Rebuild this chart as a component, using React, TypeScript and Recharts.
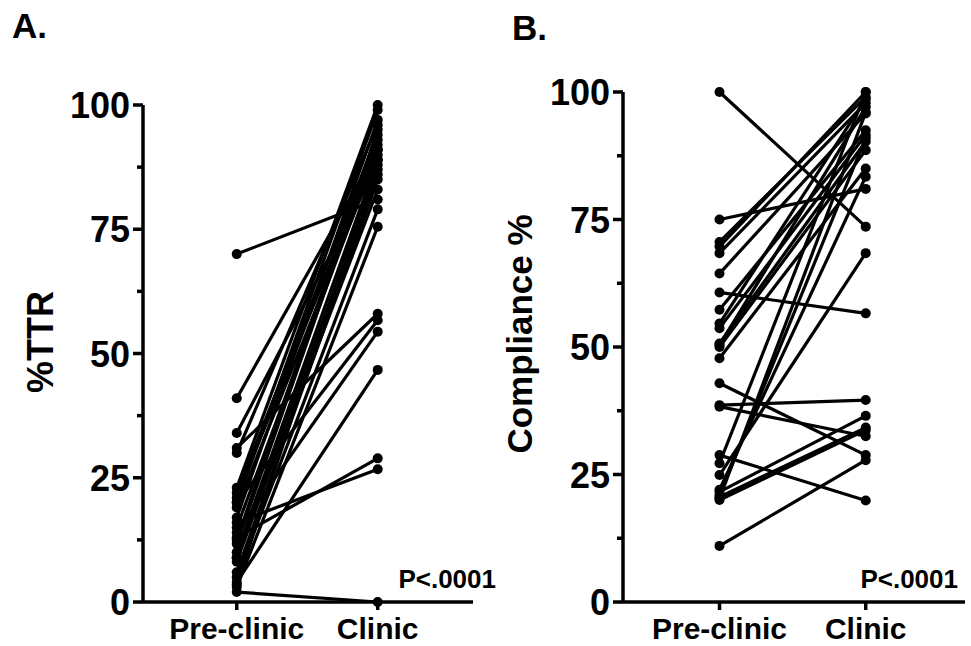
import React from 'react';
import { LineChart, Line, XAxis, YAxis } from 'recharts';

// categories on the x axis
const categories = ['Pre-clinic', 'Clinic'];
const yTicks = [0, 12.5, 25, 37.5, 50, 62.5, 75, 87.5, 100];

// Panel A: %TTR, one entry per patient
const ttrPre = [70, 41, 34, 31, 30, 23, 22, 21, 20, 20, 19, 16, 14, 13, 12.5, 11.7, 10, 8.8, 8.1, 6, 5, 4, 3, 2, 17, 15, 9, 3.5];
const ttrClinic = [81, 91, 88, 58, 96, 100, 94, 92, 99, 56.7, 90, 26.7, 54.4, 28.9, 95, 93, 89, 87, 86, 85, 79, 46.7, 75.5, 0, 97, 91, 83, 89];

// Panel B: Compliance %
const compPre = [100, 75, 70.6, 69.7, 68.4, 64.4, 60.7, 57.3, 54.6, 53.7, 50.7, 50, 50.4, 47.8, 42.9, 38.6, 38.3, 28.8, 27.2, 24.9, 21.6, 20.6, 20, 11, 22, 21, 20.3];
const compClinic = [73.6, 81, 99, 100, 97.8, 95.8, 56.6, 92.5, 98.6, 91.6, 90.3, 88.6, 97, 85, 28.8, 39.6, 32.5, 19.9, 100, 68.4, 36.5, 34.2, 33.7, 27.8, 83.4, 91, 96];

const FONT = '"Liberation Sans", Arial, Helvetica, sans-serif';

function toPairs(pre: number[], post: number[]) {
  return pre.map((v, i) => [
    { x: 0, y: v },
    { x: 1, y: post[i] },
  ]);
}

function YTick(props: any) {
  const { x, y, payload } = props;
  const major = payload.value % 25 === 0;
  return (
    <g>
      <line x1={x - (major ? 10 : 6)} x2={x} y1={y} y2={y} stroke="#000" strokeWidth={3.5} />
      {major && (
        <text x={x - 13} y={y} dy={13} textAnchor="end" fontFamily={FONT} fontWeight="bold" fontSize={36} fill="#000">
          {payload.value}
        </text>
      )}
    </g>
  );
}

function XTick(props: any) {
  const { x, y, payload } = props;
  return (
    <g>
      <line x1={x} x2={x} y1={y} y2={y + 8} stroke="#000" strokeWidth={3.5} />
      <text x={x} y={y + 37} textAnchor="middle" fontFamily={FONT} fontWeight="bold" fontSize={30} fill="#000">
        {categories[payload.value]}
      </text>
    </g>
  );
}

function Panel({ pre, post, left, width, top, right, xDomain }: any) {
  const pairs = toPairs(pre, post);
  return (
    <div style={{ position: 'absolute', left, top: 0 }}>
      <LineChart width={width} height={646} margin={{ top, right, bottom: 0, left: 0 }}>
        <XAxis
          type="number"
          dataKey="x"
          domain={xDomain}
          ticks={[0, 1]}
          interval={0}
          height={44}
          allowDataOverflow
          axisLine={{ stroke: '#000', strokeWidth: 3.5 }}
          tickLine={false}
          tickSize={0}
          tickMargin={0}
          tick={<XTick />}
        />
        <YAxis
          type="number"
          domain={[0, 100]}
          ticks={yTicks}
          interval={0}
          width={143}
          axisLine={{ stroke: '#000', strokeWidth: 3.5 }}
          tickLine={false}
          tickSize={0}
          tickMargin={0}
          tick={<YTick />}
        />
        {pairs.map((d, i) => (
          <Line
            key={i}
            data={d}
            dataKey="y"
            type="linear"
            stroke="#000"
            strokeWidth={3.2}
            dot={{ r: 5, fill: '#000', stroke: 'none' }}
            isAnimationActive={false}
          />
        ))}
      </LineChart>
    </div>
  );
}

export default function App() {
  return (
    <div style={{ position: 'absolute', left: 0, top: 0, width: 971, height: 646, background: '#fff' }}>
      <Panel pre={ttrPre} post={ttrClinic} left={0} width={500} top={105} right={27} xDomain={[-0.665, 1.676]} />
      <Panel pre={compPre} post={compClinic} left={480} width={491} top={92} right={6} xDomain={[-0.66, 1.679]} />
      <svg width={971} height={646} style={{ position: 'absolute', left: 0, top: 0, pointerEvents: 'none' }}>
        <g fontFamily={FONT} fontWeight="bold" fill="#000">
          <text x={12} y={38} fontSize={35}>A.</text>
          <text x={512} y={40} fontSize={35}>B.</text>
          <text transform="translate(53,342) rotate(-90)" textAnchor="middle" fontSize={36}>%TTR</text>
          <text transform="translate(532,334) rotate(-90)" textAnchor="middle" fontSize={35}>Compliance %</text>
          <text x={496} y={588} textAnchor="end" fontSize={26}>P&lt;.0001</text>
          <text x={958} y={588} textAnchor="end" fontSize={26}>P&lt;.0001</text>
        </g>
      </svg>
    </div>
  );
}
